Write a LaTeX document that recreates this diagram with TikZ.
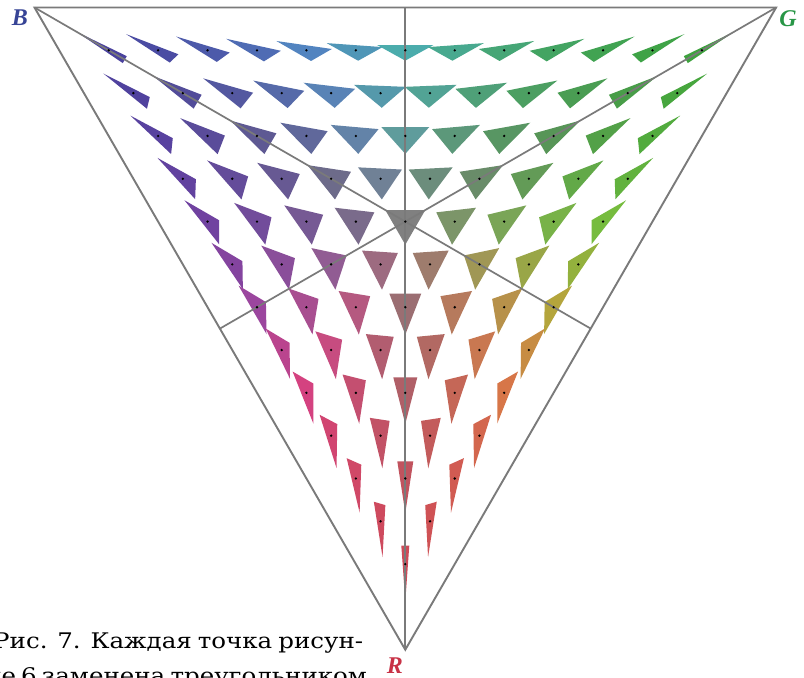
\documentclass[tikz,border=0pt]{standalone}
\usepackage{fontspec}
\newfontfamily\capfont[FakeStretch=1.14]{DejaVu Serif}
\newfontfamily\labfont{Liberation Serif}
\definecolor{linegray}{RGB}{122,122,122}
\definecolor{labB}{RGB}{55,68,150}
\definecolor{labG}{RGB}{40,150,70}
\definecolor{labR}{RGB}{200,50,70}
\tikzset{
  frame/.style={draw=linegray, line width=1.9pt, line join=miter},
  median/.style={draw=linegray, line width=1.7pt},
  corner/.style={font=\labfont\fontsize{24}{24}\selectfont\bfseries\itshape, inner sep=0pt},
  capline/.style={anchor=base west, inner sep=0pt, font=\capfont\fontsize{21.5}{24}\selectfont},
  pointdot/.style={fill=black}
}
\begin{document}
\begin{tikzpicture}[x=1pt,y=-1pt]
\clip (0,0) rectangle (804,678);
\fill[white] (0,0) rectangle (804,678);
\def\RR{{205,215,180,118,62,70,75,82,74,112,155,212,205}}
\def\GG{{75,118,165,188,162,166,172,132,66,66,70,66,75}}
\def\BB{{88,72,60,62,62,118,172,192,158,160,158,128,88}}
% small triangles
\foreach \mm in {1,...,13}{
  \pgfmathtruncatemacro\imax{14-\mm}
  \foreach \ii in {1,...,\imax}{
    \pgfmathtruncatemacro\jj{15-\ii-\mm}
    \pgfmathsetmacro\px{34.5+49.44*(\ii+\mm/2)}
    \pgfmathsetmacro\py{7.5+42.817*\mm}
    \pgfmathsetmacro\LB{10*(15-\jj)/15}
    \pgfmathsetmacro\LG{10*(15-\ii)/15}
    \pgfmathsetmacro\LR{10*(15-\mm)/15}
    \pgfmathsetmacro\QA{\LR*\LR/3}
    \pgfmathsetmacro\QC{(2*\LB*\LB+2*\LG*\LG-\LR*\LR)/9}
    \pgfmathsetmacro\QB{(\LG*\LG-\LB*\LB)/5.196152}
    \pgfmathsetmacro\dl{sqrt(\QA*\QC-\QB*\QB)}
    \pgfmathsetmacro\tau{6/sqrt(\QA+\QC+2*\dl)}
    \pgfmathsetmacro\Sa{(\QA+\dl)*\tau}
    \pgfmathsetmacro\Sb{\QB*\tau}
    \pgfmathsetmacro\Sc{(\QC+\dl)*\tau}
    \pgfmathsetmacro\vBx{\px-0.866025*\Sa-0.5*\Sb}
    \pgfmathsetmacro\vBy{\py-0.866025*\Sb-0.5*\Sc}
    \pgfmathsetmacro\vGx{\px+0.866025*\Sa-0.5*\Sb}
    \pgfmathsetmacro\vGy{\py+0.866025*\Sb-0.5*\Sc}
    \pgfmathsetmacro\vRx{\px+\Sb}
    \pgfmathsetmacro\vRy{\py+\Sc}
    % colour
    \pgfmathsetmacro\ddx{\ii+\mm/2-7.5}
    \pgfmathsetmacro\ddy{-(\mm-5)*0.866025}
    \pgfmathsetmacro\ang{atan2(\ddy,\ddx)+90}
    \pgfmathsetmacro\hue{\ang<0 ? \ang+360 : \ang}
    \pgfmathtruncatemacro\sect{floor(\hue/30)}
    \pgfmathsetmacro\frc{(\hue-30*\sect)/30}
    \pgfmathtruncatemacro\mn{min(\ii,\jj,\mm)}
    \pgfmathsetmacro\tt{(5-\mn)/4}
    \pgfmathsetmacro\fac{\tt*(1.5-0.5*\tt)}
    \pgfmathsetmacro\colr{(128+\fac*(\RR[\sect]*(1-\frc)+\RR[\sect+1]*\frc-128))/255}
    \pgfmathsetmacro\colg{(128+\fac*(\GG[\sect]*(1-\frc)+\GG[\sect+1]*\frc-128))/255}
    \pgfmathsetmacro\colb{(128+\fac*(\BB[\sect]*(1-\frc)+\BB[\sect+1]*\frc-128))/255}
    \definecolor{tc}{rgb}{\colr,\colg,\colb}
    \fill[tc] (\vBx,\vBy) -- (\vGx,\vGy) -- (\vRx,\vRy) -- cycle;
  }
}
% frame and medians
\coordinate (B) at (34.5,7.5);
\coordinate (G) at (776.1,7.5);
\coordinate (R) at (405.3,649.7);
\coordinate (mBG) at (405.3,7.5);
\coordinate (mGR) at (590.7,328.6);
\coordinate (mBR) at (219.9,328.6);
\draw[median] (mBG) -- (R);
\draw[median] (B) -- (mGR);
\draw[median] (G) -- (mBR);
\draw[frame] (B) -- (G) -- (R) -- cycle;
% dots
\foreach \mm in {1,...,13}{
  \pgfmathtruncatemacro\imax{14-\mm}
  \foreach \ii in {1,...,\imax}{
    \pgfmathsetmacro\px{34.5+49.44*(\ii+\mm/2)}
    \pgfmathsetmacro\py{7.5+42.817*\mm}
    \fill[pointdot] (\px,\py) circle (1.3pt);
  }
}
% labels
\node[corner, text=labB] (lB) at (20,18) {B};
\node[corner, text=labG] (lG) at (788,19) {G};
\node[corner, text=labR] (lR) at (395,666) {R};
% caption
\node[capline] (cap1) at (-7,648) {\makebox[370pt][s]{Рис. 7. Каждая точка рисун-}};
\node[capline] (cap2) at (-14,683) {\makebox[377pt][s]{ке 6 заменена треугольником}};
\end{tikzpicture}
\end{document}
